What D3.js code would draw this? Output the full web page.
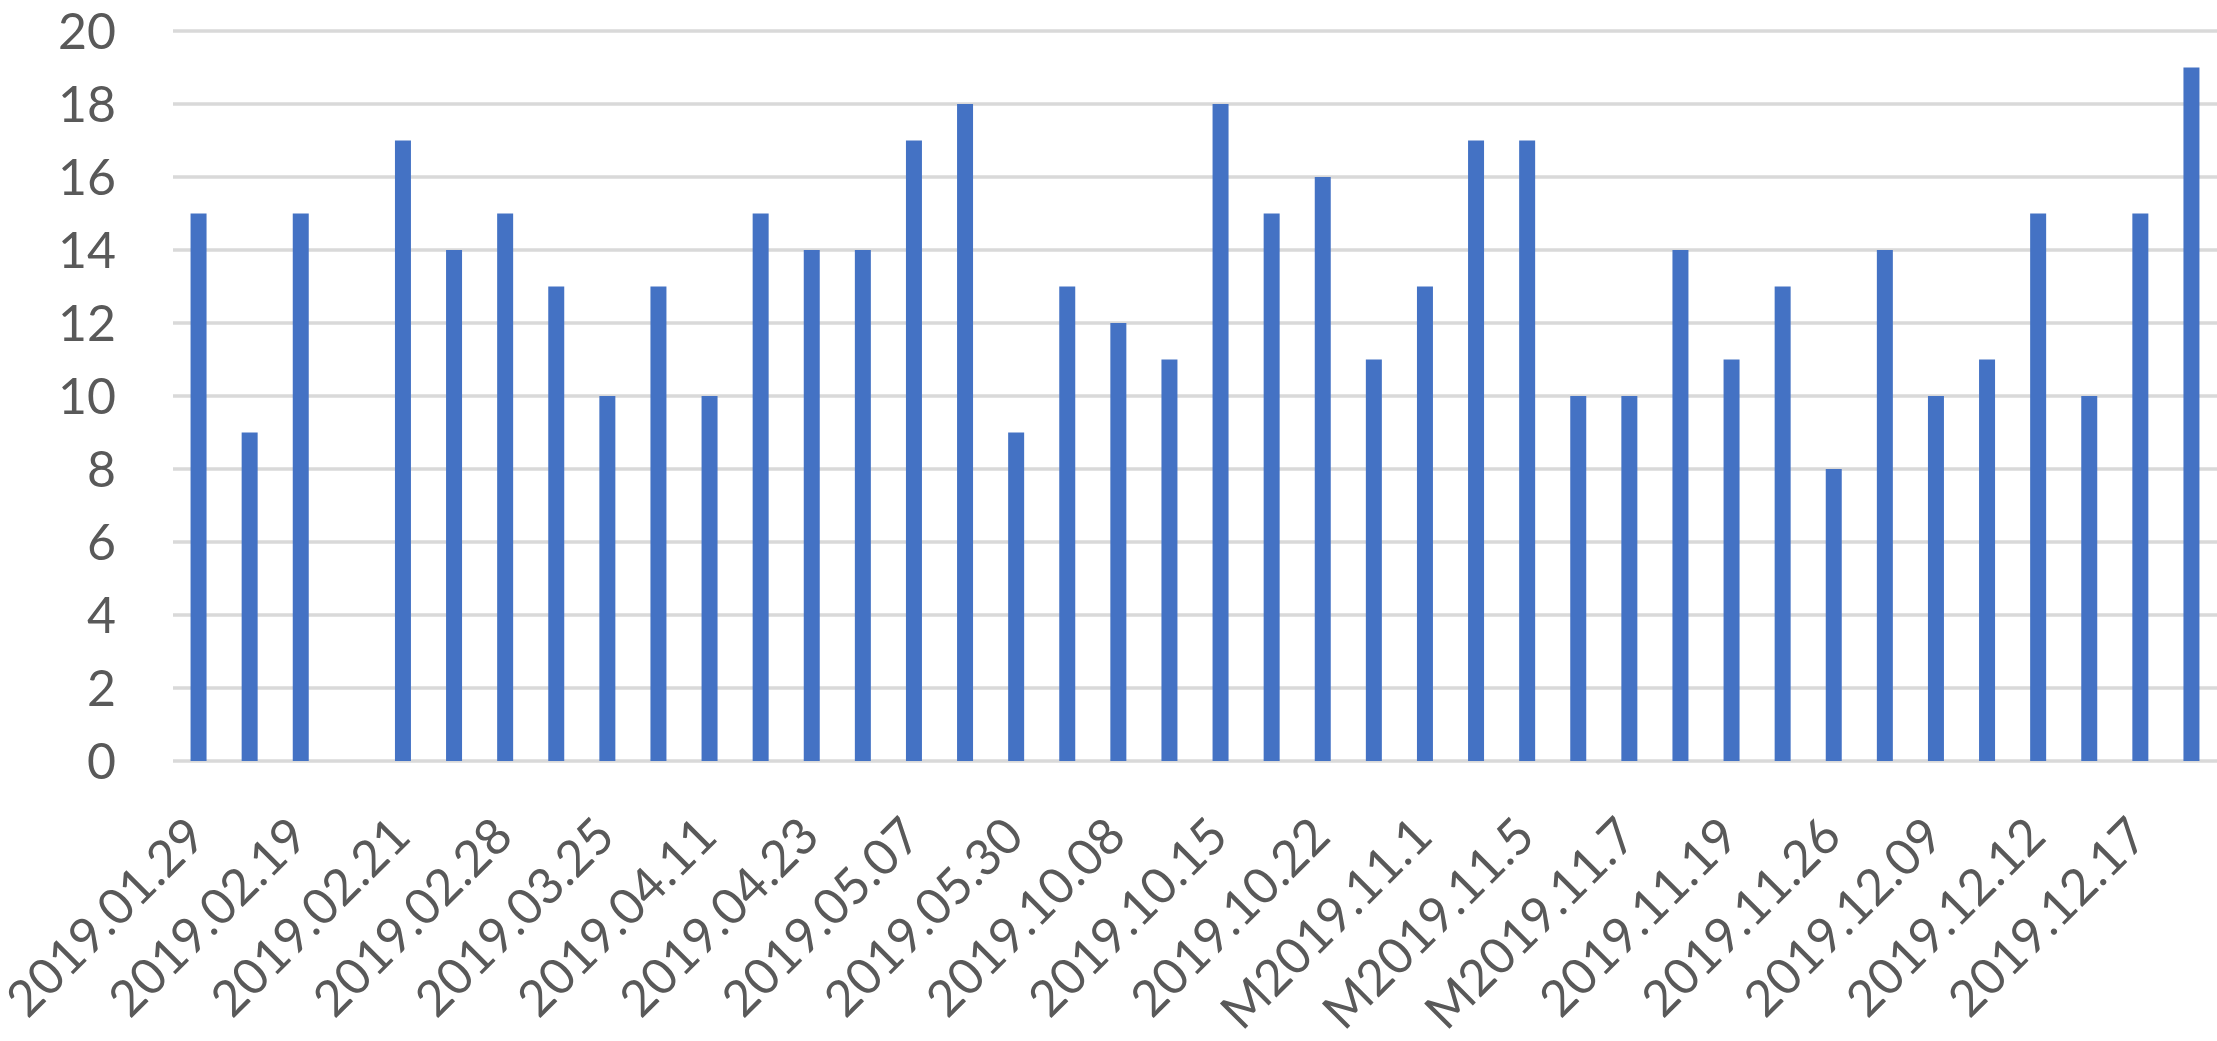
<!DOCTYPE html>
<html>
<head>
<meta charset="utf-8">
<script src="https://cdnjs.cloudflare.com/ajax/libs/d3/7.8.5/d3.min.js"></script>
<style>
html,body{margin:0;padding:0;background:#fff;}
svg{display:block;}
</style>
</head>
<body>
<svg id="chart" width="2217" height="1041"></svg>
<script>
// 40 sampling dates; only every other one is labelled on the axis
const categories = d3.range(1, 41);
const values = [15, 9, 15, 0, 17, 14, 15, 13, 10, 13,
                10, 15, 14, 14, 17, 18, 9, 13, 12, 11,
                18, 15, 16, 11, 13, 17, 17, 10, 10, 14,
                11, 13, 8, 14, 10, 11, 15, 10, 15, 19];
const tickLabels = ["2019.01.29", "2019.02.19", "2019.02.21", "2019.02.28", "2019.03.25",
                    "2019.04.11", "2019.04.23", "2019.05.07", "2019.05.30", "2019.10.08",
                    "2019.10.15", "2019.10.22", "M2019.11.1", "M2019.11.5", "M2019.11.7",
                    "2019.11.19", "2019.11.26", "2019.12.09", "2019.12.12", "2019.12.17"];
const yTicks = [0, 2, 4, 6, 8, 10, 12, 14, 16, 18, 20];

(function () {
const svg = d3.select("#chart");
const mLeft = 173, mRight = 2217, mTop = 31, mBottom = 761;
const font = "Lato, 'Open Sans', sans-serif";

const x = d3.scaleBand().domain(categories).range([mLeft, mRight]).paddingInner(0.687).paddingOuter(0.3435);
const y = d3.scaleLinear().domain([0, 20]).range([mBottom, mTop]);

// gridlines
svg.append("g").selectAll("line").data(yTicks).join("line")
  .attr("x1", mLeft).attr("x2", mRight)
  .attr("y1", d => y(d)).attr("y2", d => y(d))
  .attr("stroke", "#d9d9d9").attr("stroke-width", 3.5);

// y labels
svg.append("g").selectAll("text").data(yTicks).join("text")
  .attr("x", 116).attr("y", d => y(d))
  .attr("dy", "0.36em")
  .attr("text-anchor", "end")
  .attr("font-family", font).attr("font-size", 50)
  .attr("fill", "#595959")
  .text(d => d);

// bars
svg.append("g").selectAll("rect").data(values).join("rect")
  .attr("x", (d, i) => x(categories[i]))
  .attr("width", x.bandwidth())
  .attr("y", d => y(d))
  .attr("height", d => y(0) - y(d))
  .attr("fill", "#4472c4");

// x labels (every other category)
svg.append("g").selectAll("text").data(tickLabels).join("text")
  .attr("transform", (d, i) => {
    const cx = x(categories[i * 2]) + x.bandwidth() / 2;
    return `translate(${cx + 10},${mBottom + 78}) rotate(-45)`;
  })
  .attr("text-anchor", "end")
  .attr("font-family", font).attr("font-size", 50)
  .attr("fill", "#595959")
  .text(d => d);
})();
</script>
</body>
</html>
